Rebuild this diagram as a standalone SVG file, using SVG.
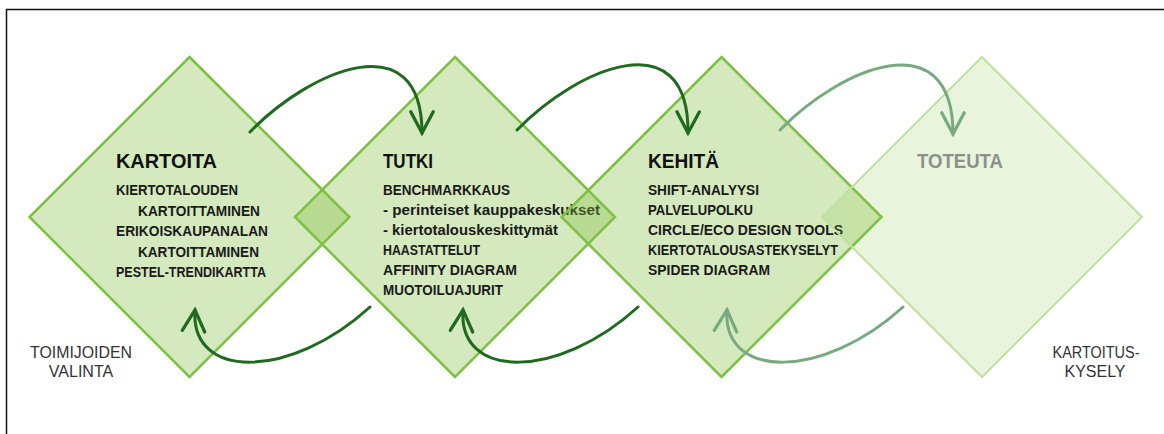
<svg xmlns="http://www.w3.org/2000/svg" width="1164" height="434" viewBox="0 0 1164 434">
  <style>
    .diamond { fill: #86c144; fill-opacity: 0.35; stroke: #7cc142; stroke-width: 2.5; stroke-linejoin: miter; }
    .diamond.faint { fill-opacity: 0.18; stroke: #bfe09e; stroke-width: 2; }
    .title { font-family: "Liberation Sans", Arial, sans-serif; font-weight: 700; font-size: 21px; fill: #111; }
    .title.faint { fill: #8c8f8a; }
    .item { font-family: "Liberation Sans", Arial, sans-serif; font-weight: 700; font-size: 14px; fill: #1a1a1a; }
    .note { font-family: "Liberation Sans", Arial, sans-serif; font-size: 16px; fill: #333; text-anchor: middle; }
    .flow { fill: none; stroke: #1f6a1f; stroke-width: 3; stroke-linecap: round; }
    .flow.faint { stroke: #78aa80; }
  </style>
  <defs>
    <marker id="head" markerUnits="userSpaceOnUse" orient="auto" markerWidth="30" markerHeight="30" refX="0" refY="0" viewBox="-20 -12 24 24" overflow="visible">
      <path d="M-17,-9 L0,0 L-17,9" fill="none" stroke="#1f6a1f" stroke-width="2.6" stroke-linecap="round" stroke-linejoin="miter"/>
    </marker>
    <marker id="head-faint" markerUnits="userSpaceOnUse" orient="auto" markerWidth="30" markerHeight="30" refX="0" refY="0" viewBox="-20 -12 24 24" overflow="visible">
      <path d="M-17,-9 L0,0 L-17,9" fill="none" stroke="#78aa80" stroke-width="2.6" stroke-linecap="round" stroke-linejoin="miter"/>
    </marker>
  </defs>

  <rect width="1164" height="434" fill="#fff"/>
  <!-- frame -->
  <path d="M6.5,434 V9.5 H1164" fill="none" stroke="#111" stroke-width="1.5"/>

  <g id="kartoita">
    <polygon class="diamond" points="189.5,57 349.5,217 189.5,377 29.5,217"/>
    <text class="title" x="116" y="168" textLength="101" lengthAdjust="spacingAndGlyphs">KARTOITA</text>
    <text class="item" x="116" y="195" textLength="122" lengthAdjust="spacingAndGlyphs">KIERTOTALOUDEN</text>
    <text class="item" x="138" y="216" textLength="122" lengthAdjust="spacingAndGlyphs">KARTOITTAMINEN</text>
    <text class="item" x="116" y="236" textLength="152" lengthAdjust="spacingAndGlyphs">ERIKOISKAUPANALAN</text>
    <text class="item" x="138" y="257" textLength="121" lengthAdjust="spacingAndGlyphs">KARTOITTAMINEN</text>
    <text class="item" x="116" y="277" textLength="150" lengthAdjust="spacingAndGlyphs">PESTEL-TRENDIKARTTA</text>
  </g>

  <g id="tutki">
    <polygon class="diamond" points="455,57 615,217 455,377 295,217"/>
    <text class="title" x="383" y="168" textLength="50" lengthAdjust="spacingAndGlyphs">TUTKI</text>
    <text class="item" x="383" y="195" textLength="127" lengthAdjust="spacingAndGlyphs">BENCHMARKKAUS</text>
    <text class="item" x="383" y="215" textLength="217" lengthAdjust="spacingAndGlyphs">- perinteiset kauppakeskukset</text>
    <text class="item" x="383" y="235" textLength="175" lengthAdjust="spacingAndGlyphs">- kiertotalouskeskittymät</text>
    <text class="item" x="383" y="255" textLength="97" lengthAdjust="spacingAndGlyphs">HAASTATTELUT</text>
    <text class="item" x="383" y="275" textLength="134" lengthAdjust="spacingAndGlyphs">AFFINITY DIAGRAM</text>
    <text class="item" x="383" y="295" textLength="120" lengthAdjust="spacingAndGlyphs">MUOTOILUAJURIT</text>
  </g>

  <g id="kehita">
    <polygon class="diamond" points="721.5,57 881.5,217 721.5,377 561.5,217"/>
    <text class="title" x="648" y="168" textLength="71" lengthAdjust="spacingAndGlyphs">KEHITÄ</text>
    <text class="item" x="648" y="195" textLength="111" lengthAdjust="spacingAndGlyphs">SHIFT-ANALYYSI</text>
    <text class="item" x="648" y="215" textLength="105" lengthAdjust="spacingAndGlyphs">PALVELUPOLKU</text>
    <text class="item" x="648" y="235" textLength="195" lengthAdjust="spacingAndGlyphs">CIRCLE/ECO DESIGN TOOLS</text>
    <text class="item" x="648" y="255" textLength="190" lengthAdjust="spacingAndGlyphs">KIERTOTALOUSASTEKYSELYT</text>
    <text class="item" x="648" y="275" textLength="122" lengthAdjust="spacingAndGlyphs">SPIDER DIAGRAM</text>
  </g>

  <g id="toteuta">
    <polygon class="diamond faint" points="982,57 1142,217 982,377 822,217"/>
    <text class="title faint" x="917" y="168" textLength="86" lengthAdjust="spacingAndGlyphs">TOTEUTA</text>
  </g>

  <g id="toimijoiden-valinta">
    <text class="note" x="81" y="358" textLength="102" lengthAdjust="spacingAndGlyphs">TOIMIJOIDEN</text>
    <text class="note" x="81" y="377">VALINTA</text>
  </g>

  <g id="kartoituskysely">
    <text class="note" x="1096" y="358" textLength="87" lengthAdjust="spacingAndGlyphs">KARTOITUS-</text>
    <text class="note" x="1095" y="377">KYSELY</text>
  </g>

  <g id="connectors">
    <!-- forward arcs over the top -->
    <path class="flow" d="M250,132 C310,70 422,22 422,133" marker-end="url(#head)"/>
    <path class="flow" d="M517,130 C577,68 689,20 688,133" marker-end="url(#head)"/>
    <path class="flow faint" d="M780,130 C840,68 953,20 953,134" marker-end="url(#head-faint)"/>
    <!-- return arcs underneath -->
    <path class="flow" d="M370,307 C290,380 190,380 195,310" marker-end="url(#head)"/>
    <path class="flow" d="M638,307 C558,380 458,380 463,310" marker-end="url(#head)"/>
    <path class="flow faint" d="M903,307 C823,380 722,380 727,310" marker-end="url(#head-faint)"/>
  </g>
</svg>
